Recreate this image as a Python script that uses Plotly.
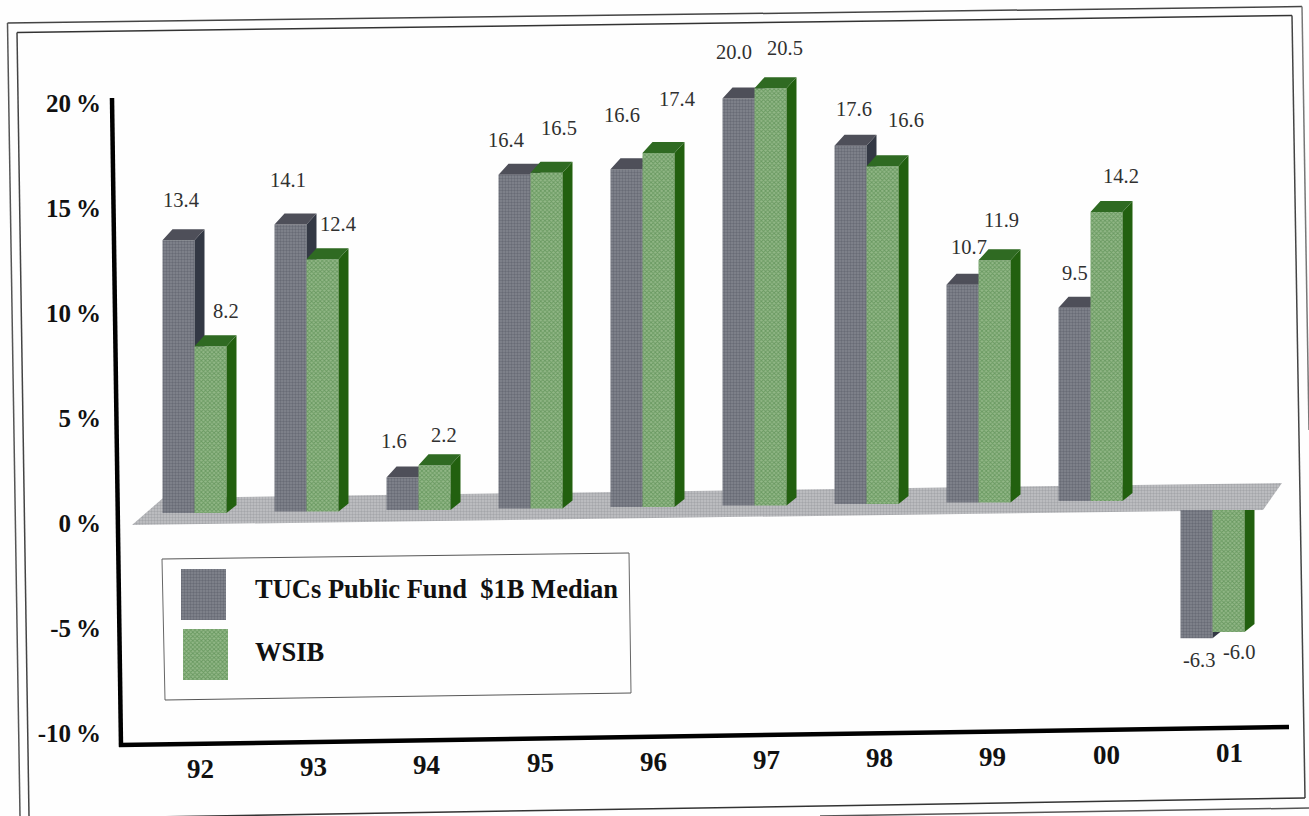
import plotly.graph_objects as go

# Annual returns (%) by fiscal year
years = ["92", "93", "94", "95", "96", "97", "98", "99", "00", "01"]
tucs_median = [13.4, 14.1, 1.6, 16.4, 16.6, 20.0, 17.6, 10.7, 9.5, -6.3]
wsib = [8.2, 12.4, 2.2, 16.5, 17.4, 20.5, 16.6, 11.9, 14.2, -6.0]

y_ticks = [20, 15, 10, 5, 0, -5, -10]
y_tick_text = ["20\u2009%", "15\u2009%", "10\u2009%", "5\u2009%", "0\u2009%", "-5\u2009%", "-10\u2009%"]

# Page geometry
W, H = 1309, 816
M_L, M_B = 108, 70
PLOT_W, PLOT_H = W - M_L, H - M_B

SLOT_PX = 112.0
FIRST_CENTRE_PX = 178.5
BAR_W = 32.0 / SLOT_PX
DEPTH_X = 10.0 / SLOT_PX
NEG_GAP = 10.0 / SLOT_PX           # loss years sit slightly further right

AXIS_PX_PER_PCT = 21.0             # tick scale
AXIS_ZERO_PX = 523.0
BAR_PX_PER_PCT = 20.35             # bar scale (bars recede a little)
BAR_ZERO_PX = 513.0
RISE_PER_SLOT = 1.5 / BAR_PX_PER_PCT   # floor climbs to the right
DEPTH_TOP = 11.0 / BAR_PX_PER_PCT
DEPTH_BASE = 8.0 / BAR_PX_PER_PCT
NEG_TOP_OFFSET = 10.5 / BAR_PX_PER_PCT

GRAY_FRONT, GRAY_DOT, GRAY_TOP, GRAY_SIDE = "#84878f", "#4c4f5b", "#4e4f59", "#333844"
GREEN_FRONT, GREEN_DOT, GREEN_TOP, GREEN_SIDE = "#93b888", "#3f7a38", "#2f6a22", "#22600f"
FLOOR_BG, FLOOR_DOT = "#c2c4c6", "#85878b"
SERIF = "Liberation Serif"
INK = "#303030"

# Per-label offsets from the top of each bar, in pixels
gray_dx = [2, -3, -9, -9, -5, -5, 3, 6, 0, 2]
gray_dy = [40, 45, 36, 35, 54, 47, 37, 38, 35, -22]
green_dx = [15, 15, 9, 12, 18, 14, 23, 7, 14, 10]
green_dy = [35, 35, 30, 45, 54, 40, 46, 40, 36, -20]


def paper_x(px):
    return (px - M_L) / PLOT_W


def paper_y(py):
    return (PLOT_H - py) / PLOT_H


def slot_x(px):
    return (px - FIRST_CENTRE_PX) / SLOT_PX


def floor_y(py):
    return (AXIS_ZERO_PX - py) / AXIS_PX_PER_PCT


slots = [i + (NEG_GAP if v < 0 else 0) for i, v in enumerate(tucs_median)]
bases = [
    i * RISE_PER_SLOT - (NEG_TOP_OFFSET if v < 0 else 0)
    for i, v in enumerate(tucs_median)
]


def faces(centres, values):
    """Return the top and side polygons of the 3-D bars."""
    top_x, top_y, side_x, side_y = [], [], [], []
    for c, v, b in zip(centres, values, bases):
        l, r = c - BAR_W / 2, c + BAR_W / 2
        t = b + v
        if v >= 0:
            top_x += [l, r, r + DEPTH_X, l + DEPTH_X, l, None]
            top_y += [t, t, t + DEPTH_TOP, t + DEPTH_TOP, t, None]
            side_x += [r, r + DEPTH_X, r + DEPTH_X, r, r, None]
            side_y += [b, b + DEPTH_BASE, t + DEPTH_TOP, t, b, None]
        else:
            side_x += [r, r + DEPTH_X, r + DEPTH_X, r, r, None]
            side_y += [b, b, t + DEPTH_BASE, t, b, None]
    return top_x, top_y, side_x, side_y


def poly(xs, ys, color, xa, ya, pattern=None):
    return go.Scatter(
        x=xs, y=ys, xaxis=xa, yaxis=ya, mode="lines", fill="toself",
        fillcolor=color, line=dict(width=0), hoverinfo="skip",
        showlegend=False, fillpattern=pattern,
    )


def series(centres, values, front, dot, shape, top, side, xa, ya, name):
    tx, ty, sx, sy = faces(centres, values)
    return [
        go.Bar(
            x=centres, y=values, base=bases, width=BAR_W, xaxis=xa, yaxis=ya,
            name=name, showlegend=False,
            marker=dict(
                color=front, line=dict(width=0),
                pattern=dict(shape=shape, fgcolor=dot, bgcolor=front, size=3, solidity=0.5),
            ),
        ),
        poly(sx, sy, side, xa, ya),
        poly(tx, ty, top, xa, ya),
    ]


fig = go.Figure()

# Floor plane at zero
floor_px = [(132, 525), (1263, 510), (1282, 483), (163, 498)]
fig.add_trace(poly(
    [slot_x(p[0]) for p in floor_px] + [slot_x(floor_px[0][0])],
    [floor_y(p[1]) for p in floor_px] + [floor_y(floor_px[0][1])],
    FLOOR_BG, "x", "y",
    dict(shape=".", fgcolor=FLOOR_DOT, bgcolor=FLOOR_BG, size=3, solidity=0.5),
))

gray_centres = slots
green_centres = [s + BAR_W for s in slots]
for tr in series(gray_centres, tucs_median, GRAY_FRONT, GRAY_DOT, ".", GRAY_TOP, GRAY_SIDE,
                 "x2", "y2", "TUCs Public Fund $1B Median"):
    fig.add_trace(tr)
for tr in series(green_centres, wsib, GREEN_FRONT, GREEN_DOT, "x", GREEN_TOP, GREEN_SIDE,
                 "x3", "y3", "WSIB"):
    fig.add_trace(tr)

# Legend swatches keep the bar textures
for (x0, y0, x1, y1), front, dot, shape in [
    ((181, 569, 226, 620), GRAY_FRONT, GRAY_DOT, "."),
    ((183, 629, 228, 680), GREEN_FRONT, GREEN_DOT, "x"),
]:
    fig.add_trace(poly(
        [slot_x(x0), slot_x(x1), slot_x(x1), slot_x(x0), slot_x(x0)],
        [floor_y(y1), floor_y(y1), floor_y(y0), floor_y(y0), floor_y(y1)],
        front, "x", "y",
        dict(shape=shape, fgcolor=dot, bgcolor=front, size=3, solidity=0.5),
    ))

annotations = []
for c, v, b, dx, dy in zip(gray_centres, tucs_median, bases, gray_dx, gray_dy):
    annotations.append(dict(
        x=c, y=b + v, xref="x2", yref="y2", text=f"{v:.1f}", showarrow=False,
        xshift=dx, yshift=dy, font=dict(family=SERIF, size=20.5, color=INK),
    ))
for c, v, b, dx, dy in zip(green_centres, wsib, bases, green_dx, green_dy):
    annotations.append(dict(
        x=c, y=b + v, xref="x3", yref="y3", text=f"{v:.1f}", showarrow=False,
        xshift=dx, yshift=dy, font=dict(family=SERIF, size=20.5, color=INK),
    ))

# Year labels follow the slope of the horizontal axis
for i, (c, yr) in enumerate(zip(slots, years)):
    annotations.append(dict(
        x=c + BAR_W / 2, y=paper_y(768.5 - 1.67 * i), xref="x", yref="paper", yanchor="middle",
        text=f"<b>{yr}</b>", showarrow=False, xshift=6 + 1.2 * i,
        font=dict(family=SERIF, size=27, color="#111111"),
    ))

# Legend text
annotations += [
    dict(x=paper_x(253), y=paper_y(589), xref="paper", yref="paper", xanchor="left",
         yanchor="middle", text="<b>TUCs Public Fund\u00a0\u00a0$1B Median</b>", showarrow=False,
         font=dict(family=SERIF, size=26.5, color="#111111")),
    dict(x=paper_x(253), y=paper_y(652), xref="paper", yref="paper", xanchor="left",
         yanchor="middle", text="<b>WSIB</b>", showarrow=False,
         font=dict(family=SERIF, size=26.5, color="#111111")),
]


def seg(x0, y0, x1, y1, width, color="#000000"):
    return dict(type="line", xref="paper", yref="paper",
                x0=paper_x(x0), y0=paper_y(y0), x1=paper_x(x1), y1=paper_y(y1),
                line=dict(width=width, color=color))


shapes = [
    # Axis lines
    seg(112, 98, 121, 747, 4.5),
    seg(119, 745, 1289, 727, 4.5),
    # Double page frame
    seg(7.5, 23, 1302, 6.5, 1.5, "#444444"),
    seg(17, 32.5, 1292, 15.5, 1.5, "#333333"),
    seg(7.5, 23, 20, 816, 1.5, "#555555"),
    seg(17, 32.5, 29, 816, 1.5, "#444444"),
    seg(1302, 6.5, 1309, 430, 1.5, "#777777"),
    seg(1292, 15.5, 1305, 798, 1.5, "#444444"),
    seg(29, 819, 1305, 798, 1.5, "#333333"),
    seg(820, 816, 1309, 808, 1.5, "#555555"),
    # Legend box
    seg(162, 559, 629, 553, 1, "#555555"),
    seg(162, 559, 165, 700, 1, "#666666"),
    seg(629, 553, 631, 693, 1, "#666666"),
    seg(165, 700, 631, 693, 1, "#555555"),
]

x_range = [slot_x(M_L), slot_x(W)]
axis_y_range = [(AXIS_ZERO_PX - PLOT_H) / AXIS_PX_PER_PCT, AXIS_ZERO_PX / AXIS_PX_PER_PCT]
bar_y_range = [(BAR_ZERO_PX - PLOT_H) / BAR_PX_PER_PCT, BAR_ZERO_PX / BAR_PX_PER_PCT]
hidden = dict(visible=False, fixedrange=True)

fig.update_layout(
    width=W, height=H, autosize=False,
    margin=dict(l=M_L, r=0, t=0, b=M_B),
    paper_bgcolor="#fefefe", plot_bgcolor="rgba(0,0,0,0)",
    barmode="overlay", showlegend=False,
    shapes=shapes, annotations=annotations,
    xaxis=dict(range=x_range, **hidden),
    xaxis2=dict(range=x_range, overlaying="x", anchor="y2", **hidden),
    xaxis3=dict(range=x_range, overlaying="x", anchor="y3", **hidden),
    yaxis=dict(
        range=axis_y_range, tickvals=y_ticks, ticktext=y_tick_text,
        showgrid=False, zeroline=False, showline=False, ticks="", ticklabelstandoff=6,
        tickfont=dict(family=SERIF, size=25, color="#111111", weight="bold"),
        fixedrange=True,
    ),
    yaxis2=dict(range=bar_y_range, overlaying="y", anchor="x2", **hidden),
    yaxis3=dict(range=bar_y_range, overlaying="y", anchor="x3", **hidden),
)

fig.write_html("out.html", config=dict(displayModeBar=False))
